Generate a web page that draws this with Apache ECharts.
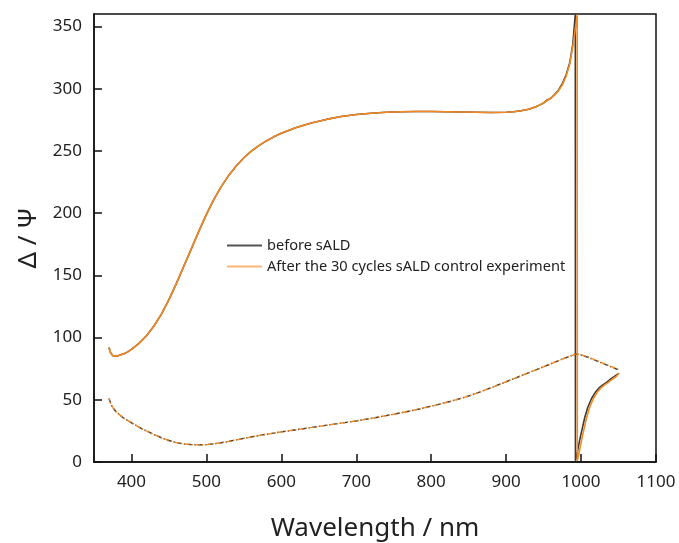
<!DOCTYPE html>
<html>
<head>
<meta charset="utf-8">
<script src="https://cdn.jsdelivr.net/npm/echarts@6/dist/echarts.min.js"></script>
<style>html,body{margin:0;padding:0;background:#fff;}#c{width:679px;height:543px;}</style>
</head>
<body>
<div id="c"></div>
<script>
// Δ (Delta) curve, before sALD
const deltaBeforeX = [370,372,375,377,380,385,390,395,400,410,420,430,440,450,460,470,480,490,500,510,520,530,540,550,560,570,580,590,600,620,640,660,680,700,720,740,760,780,800,820,840,860,880,900,910,920,930,940,945,950,955,960,965,970,975,980,985,989,992.3,992.5,994,996,999,1002,1005,1009,1014,1019,1024,1029,1034,1039,1044,1050];
const deltaBeforeY = [92,88,85.5,84.5,85,86,87,88.5,90.5,95.3,101.5,109.3,118.8,130.5,143.5,157.5,171.5,185.5,199,211,221.5,230.5,238,244.5,249.8,254.2,258,261.3,264.2,268.8,272.4,275.3,277.6,279.3,280.3,281,281.5,281.7,281.6,281.4,281.2,281,280.8,281,281.5,282.3,283.5,285.5,287,288.5,291,292.5,295.5,299,304,311,321,336,359.5,1,5,11,20,28,36,44,51,56,59.5,62,64,66.5,68.5,71];
// Δ (Delta) curve, after 30 cycles
const deltaAfterX = [370,372,375,377,380,385,390,395,400,410,420,430,440,450,460,470,480,490,500,510,520,530,540,550,560,570,580,590,600,620,640,660,680,700,720,740,760,780,800,820,840,860,880,900,910,920,930,940,945,950,955,960,965,970,975,980,985,990,994.8,995,996.5,998.5,1001.5,1004.5,1007.5,1011.5,1016.5,1021.5,1026.5,1031.5,1036.5,1041.5,1046.5,1051];
const deltaAfterY = [92,88,85.5,84.5,85,86,87,88.5,90.5,95.3,101.5,109.3,118.8,130.5,143.5,157.5,171.5,185.5,199,211,221.5,230.5,238,244.5,249.8,254.2,258,261.3,264.2,268.8,272.4,275.3,277.6,279.3,280.3,281,281.5,281.7,281.6,281.4,281.2,281,280.8,281,281.5,282.3,283.5,285.5,287,288.5,290.5,292.5,295,298.5,303,310,320,338,359.5,1,5,11,20,28,36,44,51,56,59.5,62,64,66.5,68.5,71.5];
// Ψ (Psi) curve, before sALD
const psiBeforeX = [370,373,376,380,390,400,410,420,430,440,450,460,470,480,490,500,510,520,530,540,550,575,600,625,650,675,700,725,750,775,800,825,850,875,900,925,950,970,985,993,1000,1010,1020,1030,1040,1050];
const psiBeforeY = [51,46,43,40,35,31.5,28,25,22,19.5,17.3,15.6,14.5,14,13.8,14,14.6,15.5,16.6,17.8,19,21.8,24.2,26.4,28.6,30.8,33,35.6,38.4,41.4,44.8,48.6,53,58.5,64.5,70.5,76.5,81.5,85,86.8,86,84,81.5,79,76.5,74];
// Ψ (Psi) curve, after 30 cycles
const psiAfterX = psiBeforeX;
const psiAfterY = [51,46,43,40,35,31.5,28,25,22,19.5,17.3,15.6,14.5,14,13.8,14,14.6,15.5,16.6,17.8,19,21.8,24.2,26.4,28.6,30.8,33,35.6,38.4,41.4,44.8,48.6,53,58.5,64.5,70.5,76.5,81.5,85,86.8,86.2,84.2,81.7,79.2,76.8,74.5];

const xTicks = [400,500,600,700,800,900,1000,1100];
const yTicks = [0,50,100,150,200,250,300,350];
const seriesNames = ['before sALD', 'After the 30 cycles sALD control experiment'];

const zip = (xs, ys) => xs.map((x, i) => [x, ys[i]]);
const FONT = 'Noto Sans';
const BLACK = '#3a3a3a';
const ORANGE = '#f5891f';
const dashDot = [5, 2, 1.5, 2];

const chart = echarts.init(document.getElementById('c'));
chart.setOption({
  animation: false,
  backgroundColor: '#fff',
  grid: { left: 94, right: 23, top: 14, bottom: 81, outerBoundsMode: 'none', containLabel: false, show: true, borderColor: '#111', borderWidth: 1.5, backgroundColor: 'transparent' },
  legend: {
    orient: 'vertical', left: 222, top: 233, itemWidth: 35, itemHeight: 2, itemGap: 6,
    icon: 'rect',
    textStyle: { fontFamily: FONT, fontSize: 14.6, color: '#222' },
    data: [
      { name: seriesNames[0], itemStyle: { color: '#555' } },
      { name: seriesNames[1], itemStyle: { color: '#fdb676' } }
    ]
  },
  xAxis: {
    type: 'value', min: 350, max: 1100,
    name: 'Wavelength / nm', nameLocation: 'middle', nameGap: 54,
    nameTextStyle: { fontFamily: FONT, fontSize: 26, color: '#222' },
    axisLine: { show: true, lineStyle: { color: '#111', width: 1.5 } },
    axisTick: { show: true, inside: true, length: 8, customValues: xTicks, lineStyle: { color: '#111', width: 1.5 } },
    axisLabel: { customValues: xTicks, margin: 12, fontFamily: FONT, fontSize: 17, color: '#222', formatter: v => String(v) },
    splitLine: { show: false }
  },
  yAxis: {
    type: 'value', min: 0, max: 360,
    name: 'Δ / Ψ', nameLocation: 'middle', nameGap: 46, nameRotate: 90,
    nameTextStyle: { fontFamily: FONT, fontSize: 26, color: '#222' },
    axisLine: { show: true, lineStyle: { color: '#111', width: 1.5 } },
    axisTick: { show: true, inside: true, length: 8, customValues: yTicks, lineStyle: { color: '#111', width: 1.5 } },
    axisLabel: { customValues: yTicks, margin: 12, fontFamily: FONT, fontSize: 17, color: '#222', formatter: v => String(v) },
    splitLine: { show: false }
  },
  series: [
    { name: seriesNames[0], type: 'line', data: zip(deltaBeforeX, deltaBeforeY), showSymbol: false, lineStyle: { color: BLACK, width: 1.6 }, itemStyle: { color: BLACK }, z: 2 },
    { name: seriesNames[0], type: 'line', data: zip(psiBeforeX, psiBeforeY), showSymbol: false, lineStyle: { color: BLACK, width: 1.4, type: dashDot }, itemStyle: { color: BLACK }, z: 2 },
    { name: seriesNames[1], type: 'line', data: zip(deltaAfterX, deltaAfterY), showSymbol: false, lineStyle: { color: ORANGE, width: 1.6 }, itemStyle: { color: ORANGE }, z: 3 },
    { name: seriesNames[1], type: 'line', data: zip(psiAfterX, psiAfterY), showSymbol: false, lineStyle: { color: ORANGE, width: 1.4, type: dashDot, dashOffset: 3 }, itemStyle: { color: ORANGE }, z: 3 }
  ]
});
</script>
</body>
</html>
